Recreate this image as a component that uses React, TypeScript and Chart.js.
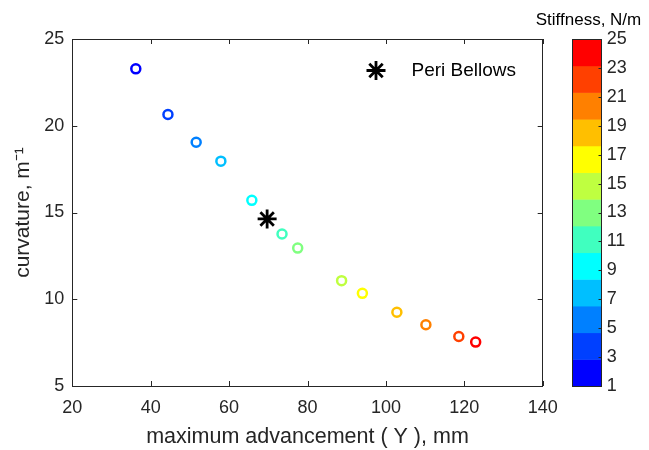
import React, { useEffect, useRef } from "react";
import { Chart, registerables } from "chart.js";

Chart.register(...registerables);

// ---- data ----
const advancement = [36.2, 44.4, 51.6, 57.9, 65.8, 73.5, 77.5, 88.7, 94.0, 102.8, 110.2, 118.6, 122.9];
const curvature = [23.28, 20.65, 19.05, 17.96, 15.7, 13.76, 12.95, 11.07, 10.34, 9.25, 8.53, 7.85, 7.53];
const stiffness = [1, 3, 5, 7, 9, 11, 13, 15, 17, 19, 21, 23, 25];
const periAdvancement = [69.7];
const periCurvature = [14.63];
const legendLabel = "Peri Bellows";
const colorbarTitle = "Stiffness, N/m";
const xTitle = "maximum advancement ( Y ), mm";
const yTitle = "curvature, m\u207B\u00B9";
const xRange = [20, 140];
const yRange = [5, 25];
const cRange = [1, 25];
const jet13 = [
  "#0000FF", "#0040FF", "#0080FF", "#00BFFF", "#00FFFF", "#40FFBF", "#80FF80",
  "#BFFF40", "#FFFF00", "#FFBF00", "#FF8000", "#FF4000", "#FF0000",
];

const FONT = '"Liberation Sans", Arial, Helvetica, sans-serif';
const AX = "#262626";

function colorFor(s: number) {
  const n = jet13.length;
  const idx = Math.min(n - 1, Math.max(0, Math.floor(((s - cRange[0]) / (cRange[1] - cRange[0])) * n)));
  return jet13[idx];
}

const decor = {
  id: "decor",
  afterDraw(chart: any) {
    const { ctx, chartArea: a, scales } = chart;
    const x = scales.x, y = scales.y, cb = scales.cb;
    ctx.save();
    ctx.strokeStyle = AX;
    ctx.lineWidth = 1;
    // inward ticks on all sides
    ctx.beginPath();
    x.ticks.forEach((t: any) => {
      const px = Math.round(x.getPixelForValue(t.value)) + 0.5;
      ctx.moveTo(px, a.bottom);
      ctx.lineTo(px, a.bottom - 5);
      ctx.moveTo(px, a.top);
      ctx.lineTo(px, a.top + 5);
    });
    y.ticks.forEach((t: any) => {
      const py = Math.round(y.getPixelForValue(t.value)) + 0.5;
      ctx.moveTo(a.left, py);
      ctx.lineTo(a.left + 5, py);
      ctx.moveTo(a.right, py);
      ctx.lineTo(a.right - 5, py);
    });
    ctx.stroke();
    ctx.strokeRect(Math.round(a.left) + 0.5, Math.round(a.top) + 0.5, Math.round(a.right - a.left), Math.round(a.bottom - a.top));

    // colorbar
    const cbL = 572.5, cbR = 601.5;
    const n = jet13.length;
    const cTop = Math.round(cb.getPixelForValue(cRange[1])) + 0.5;
    const cBot = Math.round(cb.getPixelForValue(cRange[0])) + 0.5;
    for (let i = 0; i < n; i++) {
      const v0 = cRange[0] + (i * (cRange[1] - cRange[0])) / n;
      const v1 = cRange[0] + ((i + 1) * (cRange[1] - cRange[0])) / n;
      const y0 = i === n - 1 ? cTop : cb.getPixelForValue(v1);
      const y1 = i === 0 ? cBot : cb.getPixelForValue(v0);
      ctx.fillStyle = jet13[i];
      ctx.fillRect(cbL, y0, cbR - cbL, y1 - y0 + (i === 0 ? 0 : 0.5));
    }
    ctx.strokeRect(cbL, cTop, cbR - cbL, cBot - cTop);
    ctx.beginPath();
    cb.ticks.forEach((t: any) => {
      const py = Math.round(cb.getPixelForValue(t.value)) + 0.5;
      ctx.moveTo(cbR, py);
      ctx.lineTo(cbR - 3, py);
    });
    ctx.stroke();

    // colorbar title
    ctx.fillStyle = "#000";
    ctx.font = `17px ${FONT}`;
    ctx.textAlign = "center";
    ctx.textBaseline = "middle";
    ctx.fillText(colorbarTitle, 588.5, 20);

    // legend
    const sx = 376, sy = 70.5, r = 9.5;
    ctx.strokeStyle = "#000";
    ctx.lineWidth = 2.8;
    ctx.beginPath();
    for (let k = 0; k < 4; k++) {
      const ang = (k * Math.PI) / 4;
      ctx.moveTo(sx - Math.cos(ang) * r, sy - Math.sin(ang) * r);
      ctx.lineTo(sx + Math.cos(ang) * r, sy + Math.sin(ang) * r);
    }
    ctx.stroke();
    ctx.font = `19px ${FONT}`;
    ctx.textAlign = "left";
    ctx.fillText(legendLabel, 411.5, 71);
    ctx.restore();
  },
};

export default function App() {
  const ref = useRef<HTMLCanvasElement | null>(null);
  useEffect(() => {
    if (!ref.current) return;
    const chart = new Chart(ref.current, {
      type: "scatter",
      data: {
        datasets: [
          {
            label: "stiffness",
            data: advancement.map((v, i) => ({ x: v, y: curvature[i] })),
            pointRadius: 4.5,
            pointBorderWidth: 2.5,
            pointBackgroundColor: "rgba(0,0,0,0)",
            pointBorderColor: stiffness.map(colorFor),
            showLine: false,
          },
          {
            label: legendLabel,
            data: periAdvancement.map((v, i) => ({ x: v, y: periCurvature[i] })),
            pointStyle: "star",
            pointRadius: 9.5,
            pointBorderWidth: 2.8,
            pointBorderColor: "#000",
            pointBackgroundColor: "#000",
            showLine: false,
          },
        ],
      },
      options: {
        responsive: false,
        animation: false,
        devicePixelRatio: 1,
        layout: { padding: { top: 39, left: 0, right: 0, bottom: 0 } },
        plugins: { legend: { display: false }, tooltip: { enabled: false } },
        scales: {
          x: {
            type: "linear",
            min: xRange[0],
            max: xRange[1],
            grid: { display: false, drawTicks: false },
            border: { display: false },
            ticks: { stepSize: 20, padding: 11, color: AX, font: { family: FONT, size: 18 } },
            title: { display: true, text: xTitle, color: AX, font: { family: FONT, size: 21.5 }, padding: { top: 0, bottom: 0 } },
            afterFit: (s: any) => { s.height = 64; },
          },
          y: {
            type: "linear",
            position: "left",
            min: yRange[0],
            max: yRange[1],
            grid: { display: false, drawTicks: false },
            border: { display: false },
            ticks: { stepSize: 5, padding: 8, color: AX, font: { family: FONT, size: 18 } },
            title: { display: true, text: yTitle, color: AX, font: { family: FONT, size: 21 }, padding: { top: 10.4, bottom: 0 } },
            afterFit: (s: any) => { s.width = 72.3; s.paddingTop = 0; s.paddingBottom = 0; },
          },
          cb: {
            type: "linear",
            position: "right",
            min: cRange[0],
            max: cRange[1],
            grid: { display: false, drawTicks: false },
            border: { display: false },
            ticks: { stepSize: 2, padding: 64, color: AX, font: { family: FONT, size: 18 } },
            afterFit: (s: any) => { s.width = 649 - 542.7; s.paddingTop = 0; s.paddingBottom = 0; },
          },
        },
      },
      plugins: [decor],
    } as any);
    return () => chart.destroy();
  }, []);
  return (
    <div style={{ position: "fixed", left: 0, top: 0, width: 649, height: 450, background: "#fff" }}>
      <canvas ref={ref} width={649} height={450} style={{ display: "block" }} />
    </div>
  );
}
